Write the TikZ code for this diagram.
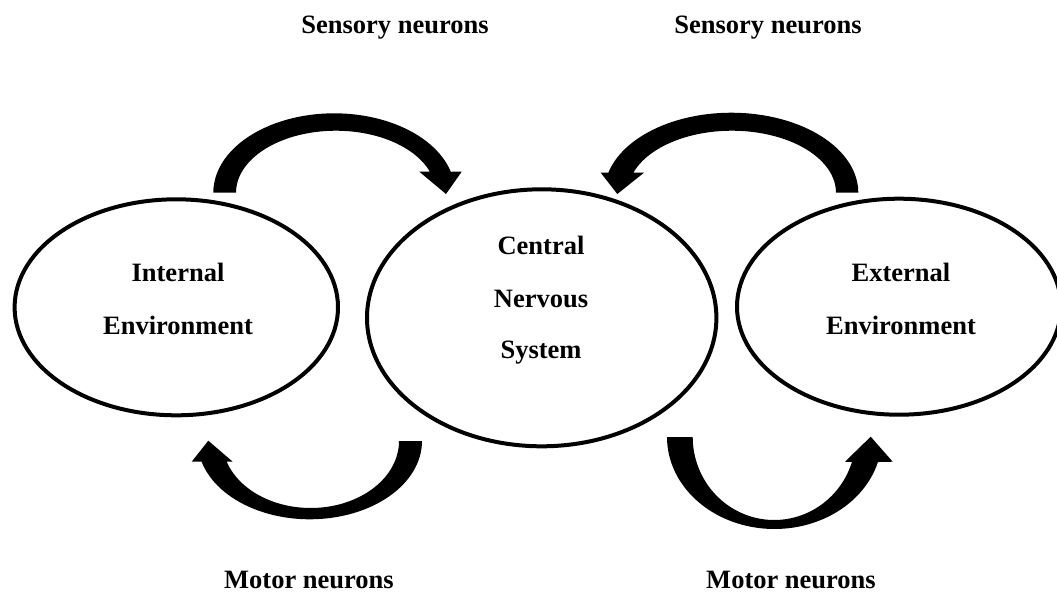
\documentclass[tikz,border=0pt]{standalone}
\usepackage{fontspec}
\setmainfont{Liberation Serif}
\usetikzlibrary{shapes.geometric}
\begin{document}
\begin{tikzpicture}[x=1pt,y=-1pt,
  env/.style={draw=black, line width=4pt, ellipse, inner sep=0pt},
  lbl/.style={font=\fontsize{26.5}{30}\selectfont\bfseries, anchor=base, inner sep=0pt},
  blk/.style={fill=black}]
\useasboundingbox (0,0) rectangle (1057,592);
% ellipses
\node[env, minimum width=323.4pt, minimum height=216pt] (int) at (176.3,307.3) {};
\node[env, minimum width=349.4pt, minimum height=257pt] (cns) at (541.7,317.8) {};
\node[env, minimum width=324pt, minimum height=216pt] (ext) at (899,306.7) {};
% ellipse texts
\node[lbl] (t1) at (178,281) {Internal};
\node[lbl] (t2) at (178,334) {Environment};
\node[lbl] (t3) at (541,254) {Central};
\node[lbl] (t4) at (541,307) {Nervous};
\node[lbl] (t5) at (541,358) {System};
\node[lbl] (t6) at (901,281) {External};
\node[lbl] (t7) at (901,334) {Environment};
% labels
\node[lbl] (s1) at (395,33.5) {Sensory neurons};
\node[lbl] (s2) at (768,33.5) {Sensory neurons};
\node[lbl] (m1) at (309,588) {Motor neurons};
\node[lbl] (m2) at (791,588) {Motor neurons};
% arrow 1: internal -> CNS (top left)
\fill[blk] (213.3,192.7) -- plot[domain=180:15.3, samples=60] ({334.2+120.9*cos(\x)},{192.7-79.4*sin(\x)})
  -- (461.7,171.7) -- (446,194) -- (419.3,171.7)
  -- plot[domain=19.8:180, samples=60] ({335.9+99.9*cos(\x)},{192.7-62*sin(\x)}) -- cycle;
% arrow 2: external -> CNS (top right)
\fill[blk] (858.3,192.7) -- plot[domain=0:165.5, samples=60] ({731.3+127*cos(\x)},{192.7-80*sin(\x)})
  -- (600.7,172.7) -- (617.3,194) -- (644,172.7)
  -- plot[domain=161.2:0, samples=60] ({731.9+104.1*cos(\x)},{192.7-62*sin(\x)}) -- cycle;
% arrow 3: CNS -> internal (bottom left)
\fill[blk] (422,441) -- plot[domain=0:164.7, samples=60] ({309.8+112.2*cos(\x)},{441+78.3*sin(\x)})
  -- (191.7,461.7) -- (208.3,440.7) -- (232.7,461.7)
  -- plot[domain=162:0, samples=60] ({310.7+88.3*cos(\x)},{441+67*sin(\x)}) -- cycle;
% arrow 4: CNS -> external (bottom right)
\fill[blk] (667,437) -- plot[domain=180:15.8, samples=60] ({774.5+107.5*cos(\x)},{437+92*sin(\x)})
  -- (892.7,461.7) -- (870.7,436.7) -- (845,461.7)
  -- plot[domain=17.5:180, samples=60] ({774.2+81.5*cos(\x)},{437+83*sin(\x)}) -- cycle;
\end{tikzpicture}
\end{document}
